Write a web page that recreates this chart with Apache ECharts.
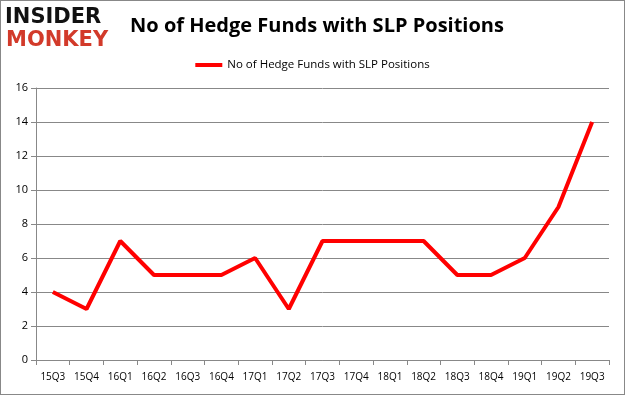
<!DOCTYPE html>
<html><head><meta charset="utf-8">
<script src="https://cdn.jsdelivr.net/npm/echarts@6/dist/echarts.min.js"></script>
<style>html,body{margin:0;padding:0;background:#fff}#c{width:625px;height:395px;box-sizing:border-box;border:1px solid #888}</style>
</head><body><div id="c"></div>
<script>
const categories = ['15Q3','15Q4','16Q1','16Q2','16Q3','16Q4','17Q1','17Q2','17Q3','17Q4','18Q1','18Q2','18Q3','18Q4','19Q1','19Q2','19Q3'];
const hedgeFunds = [4,3,7,5,5,5,6,3,7,7,7,7,5,5,6,9,14];
const seriesName = 'No of Hedge Funds with SLP Positions';
const chart = echarts.init(document.getElementById('c'));
chart.setOption({
  animation:false,
  title:{text:'No of Hedge Funds with SLP Positions',left:311,top:10,textAlign:'center',
    textStyle:{fontFamily:'Open Sans',fontWeight:'bold',fontSize:20,color:'#000'}},
  graphic:[
    {type:'text',left:4,top:6,style:{text:'INSIDER',font:'900 21px "DejaVu Sans"',fill:'#111'}},
    {type:'text',left:5,top:29,style:{text:'MONKEY',font:'900 21px "DejaVu Sans"',fill:'#d23a2a'}}
  ],
  legend:{top:53,left:'center',itemWidth:27,itemHeight:4,itemGap:2,icon:'rect',
    textStyle:{fontFamily:'Open Sans',fontSize:11.5,color:'#000'},data:[seriesName]},
  grid:{left:35,right:15,top:87,bottom:34},
  xAxis:{type:'category',data:categories,boundaryGap:true,
    axisLine:{lineStyle:{color:'#888'}},axisTick:{show:true,lineStyle:{color:'#888'}},
    axisLabel:{fontFamily:'Open Sans',fontSize:10,color:'#000',margin:12}},
  yAxis:{type:'value',min:0,max:16,interval:2,
    axisLine:{show:true,lineStyle:{color:'#888'}},axisTick:{show:true,lineStyle:{color:'#888'}},
    splitLine:{lineStyle:{color:'#888'}},
    axisLabel:{fontFamily:'Open Sans',fontSize:11,color:'#000',margin:8}},
  series:[{name:seriesName,type:'line',data:hedgeFunds,symbol:'none',
    lineStyle:{color:'#ff0000',width:4},itemStyle:{color:'#ff0000'}}]
});
</script></body></html>
